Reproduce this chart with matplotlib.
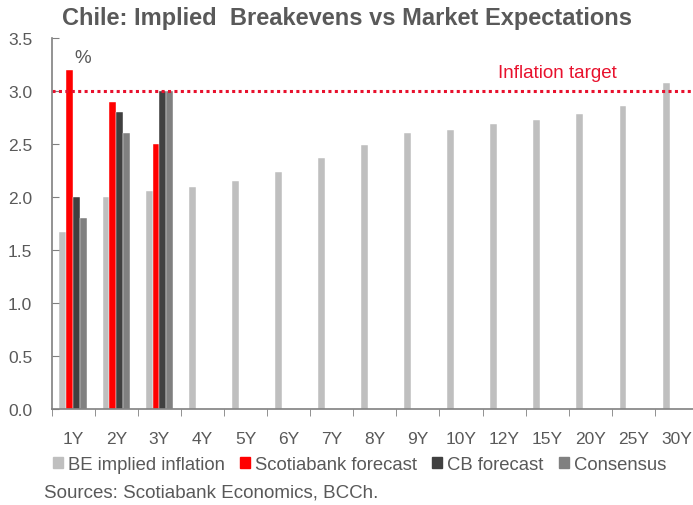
import numpy as np
import matplotlib
matplotlib.use("Agg")
import matplotlib.pyplot as plt
from matplotlib.patches import Patch

tenors = ["1Y", "2Y", "3Y", "4Y", "5Y", "6Y", "7Y", "8Y", "9Y", "10Y",
          "12Y", "15Y", "20Y", "25Y", "30Y"]
be_implied = [1.67, 2.0, 2.06, 2.09, 2.15, 2.24, 2.37, 2.49, 2.60, 2.63,
              2.69, 2.73, 2.78, 2.86, 3.08]
scotia = [3.2, 2.9, 2.5]
cb = [2.0, 2.8, 3.0]
consensus = [1.8, 2.6, 3.0]
target = 3.0

series_names = ["BE implied inflation", "Scotiabank forecast", "CB forecast", "Consensus"]
colors = ["#bfbfbf", "#ff0000", "#404040", "#808080"]
txt = "#595959"

plt.rcParams['font.family'] = ['Liberation Sans', 'DejaVu Sans']

fig = plt.figure(figsize=(6.93, 5.06), dpi=100)
W, H = 693, 506
left, right, bottom, top = 51.7, 698, 410, 39
ax = fig.add_axes([left / W, 1 - bottom / H, (right - left) / W, (bottom - top) / H])

x = np.arange(len(tenors))
w = 0.16
kw = dict(edgecolor="white", linewidth=0.3)
ax.bar(x - 1.5 * w, be_implied, w, color=colors[0], **kw)
ax.bar(x[:3] - 0.5 * w, scotia, w, color=colors[1], **kw)
ax.bar(x[:3] + 0.5 * w, cb, w, color=colors[2], **kw)
ax.bar(x[:3] + 1.5 * w, consensus, w, color=colors[3], **kw)

ax.axhline(target, color="#e8112d", lw=2.2, dashes=(1, 1.1))
ax.text(9.855, 3.13, "Inflation target", color="#e8112d", fontsize=13.5,
        ha="left", va="baseline")
ax.text(0.23, 3.32, "%", color=txt, fontsize=13.5, ha="center", va="center")

ax.set_xlim(-0.5, len(tenors) - 0.5)
ax.set_ylim(0, 3.5)
yt = np.arange(0, 3.51, 0.5)
ax.set_yticks(yt)
ax.set_yticklabels([f"{v:.1f}" for v in yt])
ax.set_xticks(x)
ax.set_xticklabels(tenors)
ax.set_xticks(np.arange(-0.5, len(tenors), 1), minor=True)
ax.tick_params(axis="x", which="major", length=0, pad=15.5, labelsize=12.5, labelcolor=txt)
ax.tick_params(axis="x", which="minor", length=5, color="#808080", direction="out")
ax.tick_params(axis="y", length=5, color="#808080", direction="in",
               labelsize=12.5, labelcolor=txt, pad=14)

for s in ["top", "right"]:
    ax.spines[s].set_visible(False)
for s in ["left", "bottom"]:
    ax.spines[s].set_color("#808080")
    ax.spines[s].set_linewidth(1.2)

fig.text(0.5, 1 - 18.5 / H, "Chile: Implied  Breakevens vs Market Expectations",
         fontsize=17, fontweight="bold", color=txt, ha="center", va="center")

handles = [Patch(color=c, label=n) for c, n in zip(colors, series_names)]
fig.legend(handles=handles, loc="center left", bbox_to_anchor=(53 / W, 1 - 466 / H),
           ncol=4, frameon=False, fontsize=13.3, handlelength=0.54, handleheight=0.54,
           handletextpad=0.25, columnspacing=0.85, borderpad=0, borderaxespad=0,
           labelcolor=txt)

fig.text(44 / W, 1 - 493 / H, "Sources: Scotiabank Economics, BCCh.", fontsize=13.5,
         color=txt, ha="left", va="center")

fig.savefig("out.png", dpi=100)
